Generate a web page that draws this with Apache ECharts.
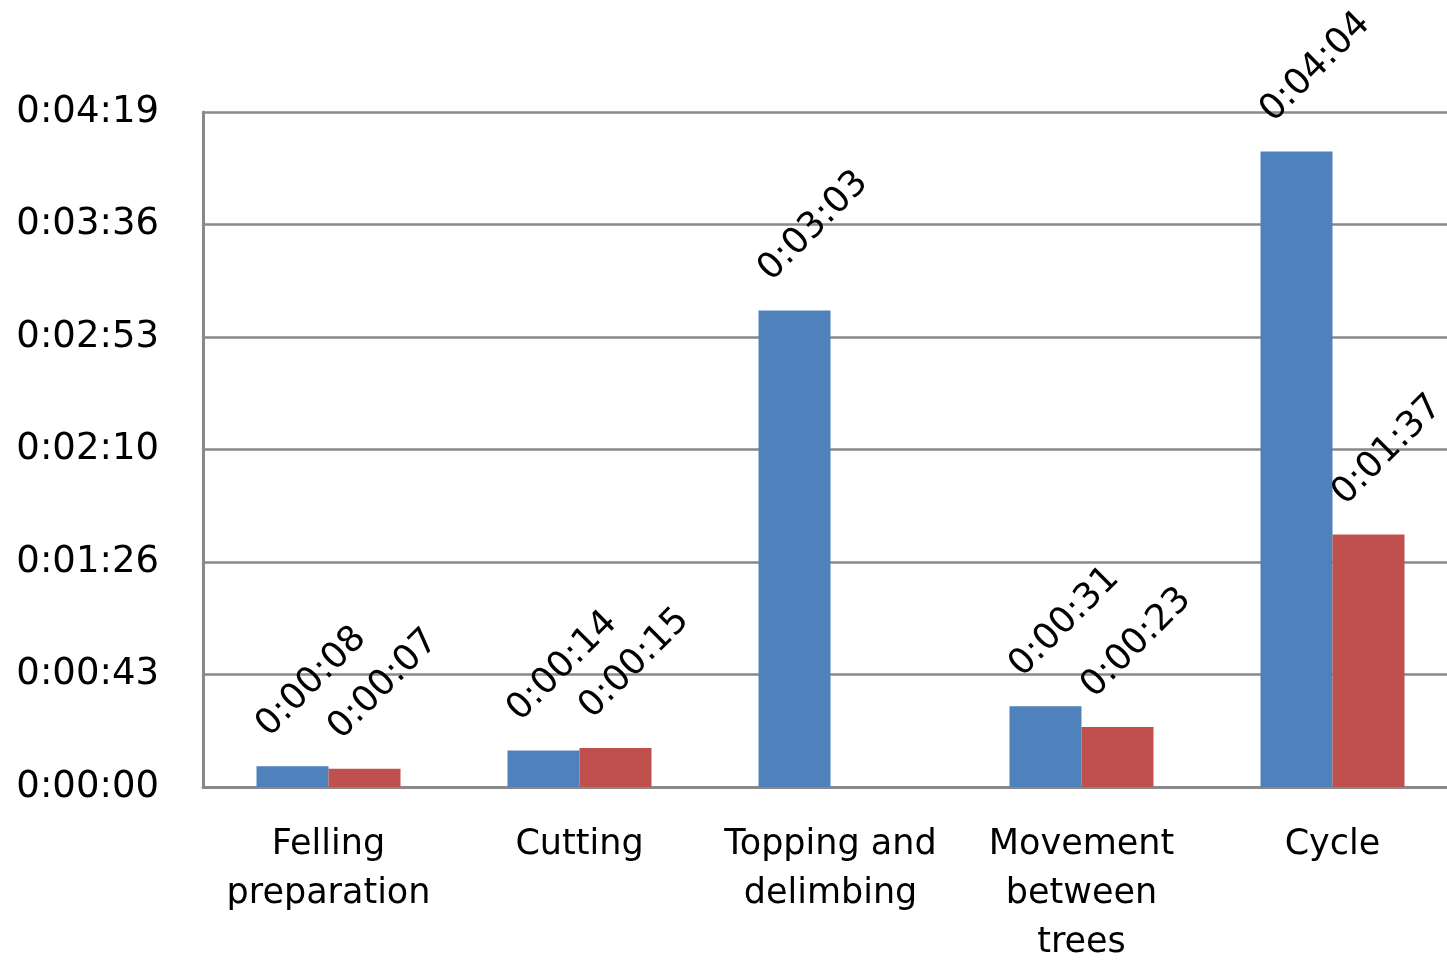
<!DOCTYPE html>
<html>
<head>
<meta charset="utf-8">
<script src="https://cdn.jsdelivr.net/npm/echarts@6/dist/echarts.min.js"></script>
<style>
  html, body { margin: 0; padding: 0; background: #ffffff; }
  #chart { width: 1447px; height: 960px; }
</style>
</head>
<body>
<div id="chart"></div>
<script>
// Work elements of the felling cycle (durations in seconds)
const categories = ['Felling\npreparation', 'Cutting', 'Topping and\ndelimbing', 'Movement\nbetween\ntrees', 'Cycle'];
const seriesA = [8, 14, 183, 31, 244];
const seriesB = [7, 15, null, 23, 97];
// Y axis: 0 to 0.003 day in steps of 0.0005 day (43.2 s)
const axisMin = 0;
const axisMax = 259.2;
const axisStep = 43.2;

const FONT = 'DejaVu Sans';

function hms(sec) {
  const s = Math.round(sec);
  const h = Math.floor(s / 3600);
  const m = Math.floor((s % 3600) / 60);
  const r = s % 60;
  return h + ':' + String(m).padStart(2, '0') + ':' + String(r).padStart(2, '0');
}

const barLabel = {
  show: true,
  position: 'top',
  distance: 0,
  rotate: 45,
  align: 'center',
  verticalAlign: 'middle',
  offset: [73, -46],
  fontFamily: FONT,
  fontSize: 36,
  color: '#000000',
  formatter: p => hms(p.value)
};

const chart = echarts.init(document.getElementById('chart'), null, { renderer: 'canvas' });
chart.setOption({
  backgroundColor: '#ffffff',
  animation: false,
  grid: { left: 203, top: 112, width: 1255, height: 675, outerBoundsMode: 'none', containLabel: false },
  xAxis: {
    type: 'category',
    data: categories,
    axisLine: { show: true, lineStyle: { color: '#898989', width: 3 } },
    axisTick: { show: false },
    axisLabel: {
      interval: 0,
      margin: 33,
      fontFamily: FONT,
      fontSize: 35,
      lineHeight: 49,
      color: '#000000',
      align: 'center'
    }
  },
  yAxis: {
    type: 'value',
    min: axisMin,
    max: axisMax,
    interval: axisStep,
    axisLine: { show: true, lineStyle: { color: '#898989', width: 3 } },
    axisTick: { show: false },
    splitLine: { show: true, lineStyle: { color: '#898989', width: 2.5 } },
    axisLabel: {
      margin: 44,
      fontFamily: FONT,
      fontSize: 37,
      color: '#000000',
      formatter: v => hms(v)
    }
  },
  series: [
    {
      type: 'bar',
      data: seriesA,
      barWidth: 72,
      barGap: '0%',
      itemStyle: { color: '#4F81BD' },
      label: barLabel
    },
    {
      type: 'bar',
      data: seriesB,
      barWidth: 72,
      barGap: '0%',
      itemStyle: { color: '#C0504D' },
      label: barLabel
    }
  ]
});
</script>
</body>
</html>
